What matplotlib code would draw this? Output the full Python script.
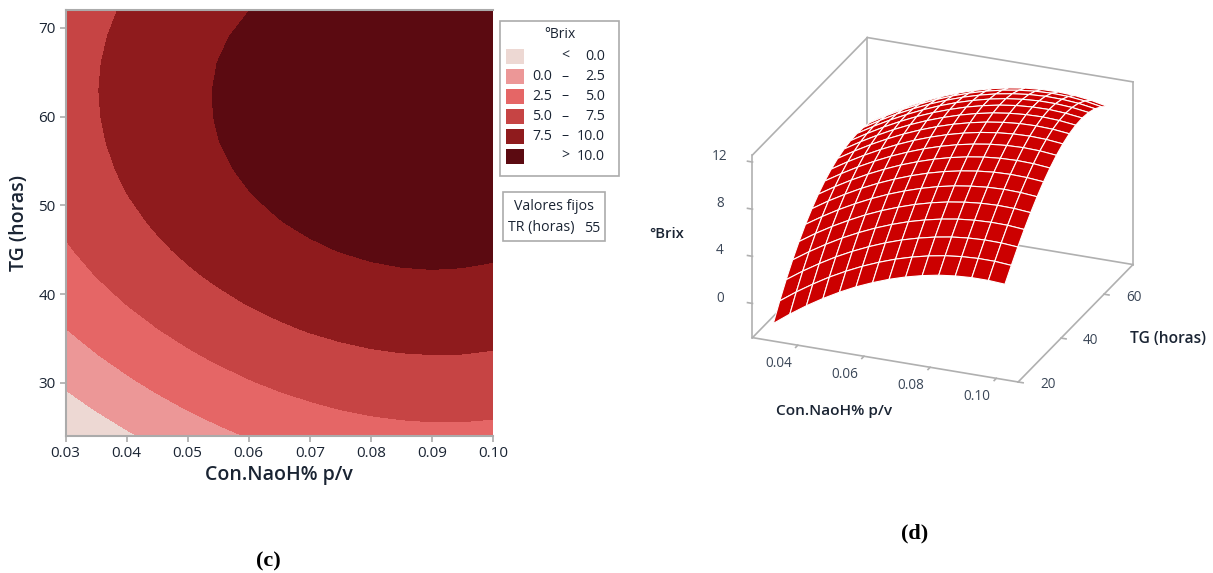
import numpy as np
import matplotlib
matplotlib.use('Agg')
import matplotlib.pyplot as plt
from matplotlib.patches import Rectangle
from mpl_toolkits.mplot3d import proj3d

con_naoh = [0.03, 0.035, 0.04, 0.045, 0.05, 0.055, 0.06, 0.065, 0.07, 0.075, 0.08, 0.085, 0.09, 0.095, 0.10]
tg = [24, 27, 30, 33, 36, 39, 42, 45, 48, 51, 54, 57, 60, 63, 66, 69, 72]
brix = [
    [-2.27, -1.24, -0.30, 0.55, 1.32, 2.01, 2.60, 3.12, 3.55, 3.90, 4.17, 4.34, 4.43, 4.43, 4.34],
    [-0.91, 0.08, 0.98, 1.81, 2.54, 3.20, 3.77, 4.27, 4.68, 5.01, 5.26, 5.42, 5.50, 5.49, 5.38],
    [0.33, 1.29, 2.16, 2.96, 3.67, 4.30, 4.86, 5.34, 5.73, 6.05, 6.29, 6.44, 6.51, 6.49, 6.38],
    [1.45, 2.38, 3.23, 4.01, 4.70, 5.32, 5.86, 6.33, 6.71, 7.02, 7.25, 7.39, 7.45, 7.43, 7.31],
    [2.45, 3.37, 4.20, 4.95, 5.64, 6.24, 6.77, 7.23, 7.61, 7.91, 8.13, 8.27, 8.33, 8.30, 8.18],
    [3.35, 4.24, 5.06, 5.80, 6.47, 7.07, 7.59, 8.04, 8.42, 8.72, 8.93, 9.07, 9.13, 9.09, 8.97],
    [4.12, 5.01, 5.81, 6.55, 7.21, 7.80, 8.32, 8.77, 9.14, 9.43, 9.65, 9.79, 9.84, 9.80, 9.68],
    [4.79, 5.66, 6.46, 7.19, 7.85, 8.44, 8.95, 9.40, 9.77, 10.06, 10.28, 10.41, 10.46, 10.42, 10.29],
    [5.35, 6.21, 7.01, 7.73, 8.39, 8.97, 9.49, 9.93, 10.30, 10.59, 10.81, 10.94, 10.99, 10.95, 10.81],
    [5.80, 6.66, 7.45, 8.17, 8.82, 9.41, 9.92, 10.36, 10.73, 11.02, 11.23, 11.36, 11.41, 11.36, 11.22],
    [6.15, 7.00, 7.79, 8.51, 9.16, 9.74, 10.25, 10.69, 11.05, 11.34, 11.55, 11.68, 11.72, 11.67, 11.52],
    [6.39, 7.24, 8.02, 8.74, 9.39, 9.97, 10.47, 10.91, 11.27, 11.56, 11.76, 11.88, 11.92, 11.85, 11.69],
    [6.54, 7.38, 8.16, 8.87, 9.52, 10.09, 10.59, 11.03, 11.38, 11.66, 11.86, 11.97, 11.99, 11.91, 11.74],
    [6.59, 7.43, 8.20, 8.90, 9.54, 10.11, 10.61, 11.03, 11.38, 11.65, 11.83, 11.93, 11.93, 11.84, 11.65],
    [6.54, 7.37, 8.14, 8.83, 9.46, 10.02, 10.51, 10.92, 11.26, 11.51, 11.68, 11.76, 11.74, 11.63, 11.41],
    [6.40, 7.22, 7.98, 8.66, 9.28, 9.83, 10.30, 10.70, 11.02, 11.25, 11.40, 11.46, 11.42, 11.27, 11.02],
    [6.18, 6.98, 7.72, 8.39, 9.00, 9.53, 9.98, 10.36, 10.65, 10.87, 10.99, 11.01, 10.94, 10.76, 10.47],
]

levels = [-100, 0, 2.5, 5, 7.5, 10, 100]
colors = ['#EDD8D3', '#EC9797', '#E56666', '#C64444', '#8F1B1D', '#5B0A11']
legend_low = ['', '0.0', '2.5', '5.0', '7.5', '']
legend_mid = ['<', '–', '–', '–', '–', '>']
legend_high = ['0.0', '2.5', '5.0', '7.5', '10.0', '10.0']

W, H = 1213, 573
plt.rcParams['font.family'] = ['Open Sans', 'DejaVu Sans']
text_color = '#1A2433'
tick_color = '#3A4657'
grey = '#ABABAB'
fig = plt.figure(figsize=(W/100, H/100), dpi=100)


def fx(px):
    return px/W


def fy(py):
    return 1-py/H


def label(px, py, s, **kw):
    kw.setdefault('color', text_color)
    kw.setdefault('va', 'center')
    return fig.text(fx(px), fy(py), s, **kw)


# contour panel
ax = fig.add_axes([fx(65.5), fy(436), 427.5/W, 426/H])
ax.contourf(con_naoh, tg, brix, levels=levels, colors=colors)
ax.set_xlim(0.03, 0.10)
ax.set_ylim(24, 72)
ax.set_xticks([0.03, 0.04, 0.05, 0.06, 0.07, 0.08, 0.09, 0.10])
ax.set_xticklabels(['0.03', '0.04', '0.05', '0.06', '0.07', '0.08', '0.09', '0.10'])
ax.set_yticks([30, 40, 50, 60, 70])
ax.tick_params(colors=grey, labelcolor=text_color, labelsize=11, length=4, width=1.2, pad=3)
for s in ax.spines.values():
    s.set_color(grey)
    s.set_linewidth(1.5)
ax.spines['right'].set_visible(False)
ax.set_xlabel('Con.NaoH% p/v', fontsize=14, fontweight='semibold', color=text_color, labelpad=3)
ax.set_ylabel('TG (horas)', fontsize=14, fontweight='semibold', color=text_color, labelpad=7)

# legend boxes
fig.add_artist(Rectangle((fx(500), fy(176)), 119/W, 155/H, fc='white', ec=grey, lw=1.2, transform=fig.transFigure))
label(560, 35, '°Brix', fontsize=10, ha='center')
for i, col in enumerate(colors):
    yc = 56 + i*20
    fig.add_artist(Rectangle((fx(506), fy(yc+8)), 18/W, 15/H, fc=col, ec='none', transform=fig.transFigure))
    label(552, yc, legend_low[i], fontsize=10.2, ha='right')
    label(565, yc, legend_mid[i], fontsize=10.2, ha='center')
    label(605, yc, legend_high[i], fontsize=10.2, ha='right')
fig.add_artist(Rectangle((fx(502.5), fy(241)), 102/W, 49/H, fc='white', ec=grey, lw=1.2, transform=fig.transFigure))
label(554, 207, 'Valores fijos', fontsize=10.2, ha='center')
label(508, 228, 'TR (horas)', fontsize=10.2, ha='left')
label(600, 228, '55', fontsize=10.2, ha='right')

# surface panel, box and ticks drawn by hand so the z axis sits on the left
ax3 = fig.add_axes([fx(648.5), fy(504), 573/W, 573/H], projection='3d', computed_zorder=False)
ax3.patch.set_alpha(0)
ax3.set_proj_type('ortho')
ax3.view_init(elev=24.4, azim=-68)
xlo, xhi, ylo, yhi, zlo, zhi = 0.0263, 0.1066, 20, 73.5, -2.9, 12.6
ax3.set_xlim(xlo, xhi)
ax3.set_ylim(ylo, yhi)
ax3.set_zlim(zlo, zhi)
ax3.set_box_aspect((1, 1.07, 0.70), zoom=0.788)
ax3.set_xticks([])
ax3.set_yticks([])
ax3.set_zticks([])
ax3.set_axis_off()
box = dict(color='#B0B0B0', lw=1.2)
for a, b in [((xlo, yhi, zlo), (xhi, yhi, zlo)), ((xlo, ylo, zlo), (xlo, yhi, zlo)),
             ((xlo, yhi, zlo), (xlo, yhi, zhi))]:
    ax3.plot(*zip(a, b), zorder=1, **box)
X, Y = np.meshgrid(con_naoh, tg)
ax3.plot_surface(X, Y, np.array(brix), color='#CC0000', edgecolor='white', linewidth=0.8, shade=False,
                 rstride=1, cstride=1, zorder=2)
for a, b in [((xlo, ylo, zlo), (xhi, ylo, zlo)), ((xhi, ylo, zlo), (xhi, yhi, zlo)),
             ((xlo, ylo, zlo), (xlo, ylo, zhi)), ((xhi, yhi, zlo), (xhi, yhi, zhi)),
             ((xlo, ylo, zhi), (xlo, yhi, zhi)), ((xlo, yhi, zhi), (xhi, yhi, zhi))]:
    ax3.plot(*zip(a, b), zorder=3, **box)


def tick_text(x, y, z, s):
    # project to the 2d plane so the label is plain text
    xp, yp, _ = proj3d.proj_transform(x, y, z, ax3.get_proj())
    ax3.text2D(xp, yp, s, transform=ax3.transData, fontsize=9.8, color=tick_color, ha='center', va='center')


for v in [0, 4, 8, 12]:
    ax3.plot([xlo, xlo - 0.0015], [ylo, ylo], [v, v], zorder=3, **box)
    tick_text(xlo - 0.00985, ylo, v, str(v))
for v in [0.04, 0.06, 0.08, 0.10]:
    ax3.plot([v, v], [ylo, ylo - 1], [zlo, zlo], zorder=3, **box)
    tick_text(v - 0.0004, ylo - 8.3, zlo, '%.2f' % v)
for v in [20, 40, 60]:
    ax3.plot([xhi, xhi + 0.0015], [v, v], [zlo, zlo], zorder=3, **box)
    tick_text(xhi + 0.00845, v + 0.8, zlo, str(v))

label(667, 234, '°Brix', fontsize=10.7, ha='center', fontweight='semibold')
label(834, 411, 'Con.NaoH% p/v', fontsize=11.1, ha='center', fontweight='semibold')
label(1168, 339, 'TG (horas)', fontsize=11.2, ha='center', fontweight='semibold')

label(268, 561, '(c)', family='Liberation Serif', fontweight='bold', fontsize=16, color='black', ha='center')
label(915, 533, '(d)', family='Liberation Serif', fontweight='bold', fontsize=16, color='black', ha='center')

fig.savefig('out.png', dpi=100)
